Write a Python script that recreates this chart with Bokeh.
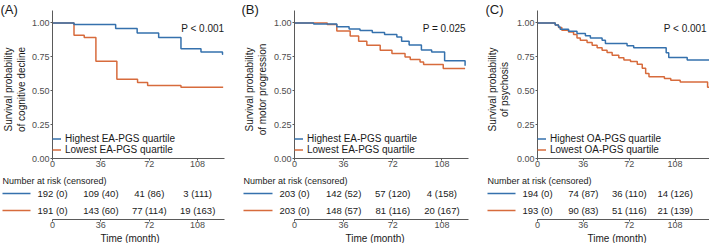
import math
from bokeh.plotting import figure
from bokeh.layouts import row, column
from bokeh.models import Range1d, FixedTicker, Legend, LegendItem, NumeralTickFormatter, Title
from bokeh.core.properties import value
from bokeh.embed import file_html
from bokeh.resources import INLINE

BLUE = "#3571ad"
ORANGE = "#d76b3c"
FONT = "Liberation Sans"
AXIS_COL = "#5a5a5a"
TICK_TXT = "#4d4d4d"
TXT = "#1a1a1a"

time_ticks = [0, 36, 72, 108]
surv_ticks = [0, 0.25, 0.5, 0.75, 1.0]

# ---------- Panel A: cognitive decline (EA-PGS) ----------
a_hi_t = [0, 16, 47, 63, 79, 95.6, 110.5, 126.5, 127]
a_hi_s = [1.0, 0.988, 0.96, 0.926, 0.892, 0.81, 0.786, 0.77, 0.77]
a_lo_t = [0, 16, 23.6, 32.3, 47.9, 63.3, 70.8, 95.6, 127]
a_lo_s = [1.0, 0.909, 0.892, 0.717, 0.585, 0.56, 0.538, 0.526, 0.526]
a_hi_risk = [192, 109, 41, 3]
a_hi_cens = [0, 40, 86, 111]
a_lo_risk = [191, 143, 77, 19]
a_lo_cens = [0, 60, 114, 163]

# ---------- Panel B: motor progression (EA-PGS) ----------
b_hi_t = [0, 14, 31, 40, 48, 57, 66, 75, 78.5, 84, 93, 100.5, 110, 125]
b_hi_s = [1.0, 0.993, 0.972, 0.955, 0.945, 0.93, 0.915, 0.897, 0.865, 0.838, 0.80, 0.786, 0.722, 0.685]
b_lo_t = [0, 24, 31, 40.8, 47, 53, 62.8, 71.4, 81, 84.8, 92, 94.6, 109, 125]
b_lo_s = [1.0, 0.988, 0.941, 0.904, 0.865, 0.836, 0.799, 0.774, 0.749, 0.730, 0.712, 0.693, 0.664, 0.664]
b_hi_risk = [203, 142, 57, 4]
b_hi_cens = [0, 52, 120, 158]
b_lo_risk = [203, 148, 81, 20]
b_lo_cens = [0, 57, 116, 167]

# ---------- Panel C: psychosis (OA-PGS) ----------
c_hi_t = [0, 13.9, 16.5, 17.8, 24.4, 31, 37.6, 41.5, 50.7, 53.3, 70.3, 75.5, 101, 103, 117.5, 135]
c_hi_s = [1.0, 0.985, 0.971, 0.954, 0.939, 0.922, 0.905, 0.89, 0.873, 0.848, 0.831, 0.818, 0.78, 0.745, 0.727, 0.727]
c_lo_t = [0, 13.9, 16.5, 19.1, 24.4, 28.3, 31, 33.6, 38.9, 42.9, 46.8, 50.7, 54.6, 58.6, 63.8, 67.8,
          73, 78.3, 82.2, 84.9, 87.5, 99.6, 104.6, 112, 133.5, 135]
c_lo_s = [1.0, 0.985, 0.966, 0.946, 0.934, 0.914, 0.89, 0.873, 0.856, 0.836, 0.817, 0.799, 0.782, 0.762, 0.743, 0.727,
          0.715, 0.695, 0.665, 0.628, 0.604, 0.59, 0.578, 0.565, 0.525, 0.525]
c_hi_risk = [194, 74, 36, 14]
c_hi_cens = [0, 87, 110, 126]
c_lo_risk = [193, 90, 51, 21]
c_lo_cens = [0, 83, 116, 139]

panels = [
    dict(tag="(A)", ylab=("Survival probability", "of cognitive decline"), pval="P < 0.001",
         hi_lab="Highest EA-PGS quartile", lo_lab="Lowest EA-PGS quartile",
         hi_t=a_hi_t, hi_s=a_hi_s, lo_t=a_lo_t, lo_s=a_lo_s,
         hi_risk=a_hi_risk, hi_cens=a_hi_cens, lo_risk=a_lo_risk, lo_cens=a_lo_cens,
         lb=52, fw=172, rb=17, xmax=128, px=111.8, toff=100, lx=(8, 21)),
    dict(tag="(B)", ylab=("Survival probability", "of motor progression"), pval="P = 0.025",
         hi_lab="Highest EA-PGS quartile", lo_lab="Lowest EA-PGS quartile",
         hi_t=b_hi_t, hi_s=b_hi_s, lo_t=b_lo_t, lo_s=b_lo_s,
         hi_risk=b_hi_risk, hi_cens=b_hi_cens, lo_risk=b_lo_risk, lo_cens=b_lo_cens,
         lb=53, fw=174, rb=17, xmax=127.5, px=109.7, toff=104, lx=(8, 21)),
    dict(tag="(C)", ylab=("Survival probability", "of psychosis"), pval="P < 0.001",
         hi_lab="Highest OA-PGS quartile", lo_lab="Lowest OA-PGS quartile",
         hi_t=c_hi_t, hi_s=c_hi_s, lo_t=c_lo_t, lo_s=c_lo_s,
         hi_risk=c_hi_risk, hi_cens=c_hi_cens, lo_risk=c_lo_risk, lo_cens=c_lo_cens,
         lb=52, fw=172, rb=0, xmax=135, px=116, toff=102, lx=(7, 19)),
]

LW = 28                  # width of the strip holding panel tag and y title
MAIN_TOP = 10
MAIN_FH = 148
YMAX = 1.092
MAIN_H = 174
RISK_FH = 45
RY0, RY1 = 0.471, 3.118


def style_axis(ax, standoff):
    ax.axis_line_color = AXIS_COL
    ax.axis_line_width = 1
    ax.major_tick_line_color = AXIS_COL
    ax.major_tick_out = 2
    ax.major_tick_in = 0
    ax.minor_tick_line_color = None
    ax.major_label_text_font = FONT
    ax.major_label_text_font_size = "9px"
    ax.major_label_text_color = TICK_TXT
    ax.major_label_standoff = standoff


def bare(fig):
    fig.grid.visible = False
    fig.outline_line_color = None
    fig.background_fill_color = "white"
    fig.border_fill_color = "white"


def make_panel(c):
    lb, fw, rb, xmax = c["lb"], c["fw"], c["rb"], c["xmax"]
    ppm = fw / xmax

    # strip with the panel tag and the two-line y title
    lf = figure(width=LW, height=MAIN_H, x_range=Range1d(0, LW), y_range=Range1d(MAIN_H, 0),
                min_border=0, x_axis_location=None, y_axis_location=None, frame_align=False,
                output_backend="svg", toolbar_location=None)
    bare(lf)
    lf.text(x=[0], y=[1], text=[c["tag"]], text_font=value(FONT), text_font_size="13px",
            text_align="left", text_baseline="top", text_color=TXT)
    lf.text(x=list(c["lx"]), y=[89, 89], text=list(c["ylab"]), angle=math.pi / 2,
            text_font=value(FONT), text_font_size="10px", text_align="center",
            text_baseline="middle", text_color=TXT)

    p = figure(frame_width=fw, frame_height=MAIN_FH,
               x_range=Range1d(0, xmax), y_range=Range1d(0, YMAX),
               min_border_left=lb - LW, min_border_right=rb, min_border_top=MAIN_TOP,
               min_border_bottom=0, frame_align=False, output_backend="svg", toolbar_location=None)
    bare(p)
    style_axis(p.xaxis[0], 0)
    style_axis(p.yaxis[0], 1)
    p.xaxis.ticker = FixedTicker(ticks=time_ticks)
    p.yaxis.ticker = FixedTicker(ticks=surv_ticks)
    p.yaxis.formatter = NumeralTickFormatter(format="0.00")

    r_lo = p.step(c["lo_t"], c["lo_s"], mode="after", line_color=ORANGE, line_width=1.5)
    r_hi = p.step(c["hi_t"], c["hi_s"], mode="after", line_color=BLUE, line_width=1.5)

    leg = Legend(items=[LegendItem(label=c["hi_lab"], renderers=[r_hi]),
                        LegendItem(label=c["lo_lab"], renderers=[r_lo])],
                 location=(0, 3), margin=0, padding=3, spacing=0,
                 glyph_width=9, glyph_height=11, label_height=11, label_standoff=4,
                 label_text_font=FONT, label_text_font_size="10px", label_text_color=TXT,
                 background_fill_alpha=0, border_line_color=None)
    p.add_layout(leg)

    p.text(x=[c["px"]], y=[0.96], text=[c["pval"]], text_font=value(FONT), text_font_size="10px",
           text_align="center", text_baseline="middle", text_color=TXT)

    # risk table: frame spans the whole panel width
    r = figure(frame_width=lb + fw + rb, frame_height=RISK_FH,
               x_range=Range1d(-lb / ppm, (fw + rb) / ppm), y_range=Range1d(RY0, RY1),
               min_border_left=0, min_border_right=0, min_border_top=0, min_border_bottom=0,
               y_axis_location=None, frame_align=False, output_backend="svg", toolbar_location=None)
    bare(r)
    style_axis(r.xaxis[0], 0)
    r.xaxis.ticker = FixedTicker(ticks=time_ticks)
    r.xaxis.bounds = (0, xmax)

    hi_txt = [f"{n} ({k})" for n, k in zip(c["hi_risk"], c["hi_cens"])]
    lo_txt = [f"{n} ({k})" for n, k in zip(c["lo_risk"], c["lo_cens"])]
    r.text(x=time_ticks, y=[2] * 4, text=hi_txt, text_font=value(FONT), text_font_size="9.5px",
           text_align="center", text_baseline="middle", text_color=TXT)
    r.text(x=time_ticks, y=[1] * 4, text=lo_txt, text_font=value(FONT), text_font_size="9.5px",
           text_align="center", text_baseline="middle", text_color=TXT)
    x0 = (2 - lb) / ppm
    x1 = -22 / ppm
    r.segment(x0=[x0, x0], y0=[2, 1], x1=[x1, x1], y1=[2, 1], line_color=[BLUE, ORANGE], line_width=1.5)
    r.text(x=[x0], y=[2.76], text=["Number at risk (censored)"], text_font=value(FONT),
           text_font_size="9px", text_align="left", text_baseline="middle", text_color=TXT)
    r.add_layout(Title(text="Time (month)", align="left", offset=c["toff"], standoff=0,
                       text_font=FONT, text_font_size="10px", text_font_style="normal",
                       text_color=TXT), "below")
    return column(row(lf, p, spacing=0), r, spacing=0)


layout = row([make_panel(c) for c in panels], spacing=0)
open("out.html", "w").write(file_html(layout, INLINE))
